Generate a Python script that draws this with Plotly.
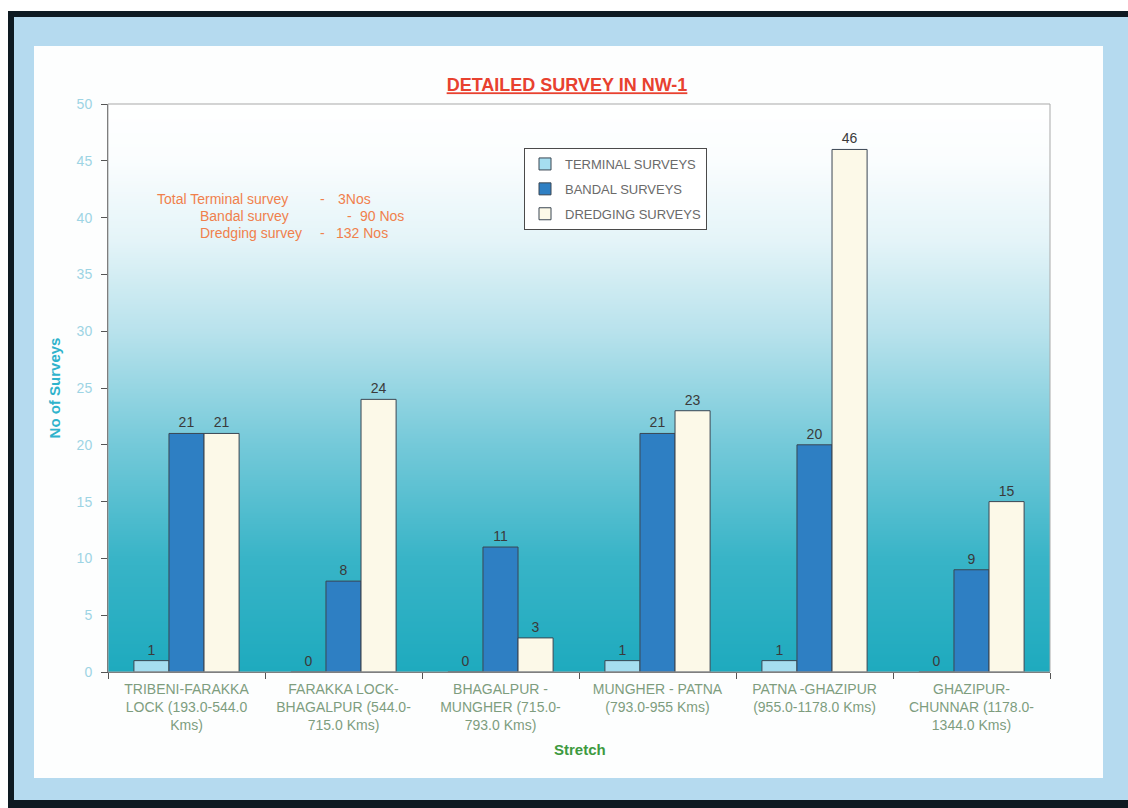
import plotly.graph_objects as go

# ---- data -------------------------------------------------------------
stretches = [
    "TRIBENI-FARAKKA<br>LOCK (193.0-544.0<br>Kms)",
    "FARAKKA LOCK-<br>BHAGALPUR (544.0-<br>715.0 Kms)",
    "BHAGALPUR -<br>MUNGHER (715.0-<br>793.0 Kms)",
    "MUNGHER - PATNA<br>(793.0-955 Kms)",
    "PATNA -GHAZIPUR<br>(955.0-1178.0 Kms)",
    "GHAZIPUR-<br>CHUNNAR (1178.0-<br>1344.0 Kms)",
]
terminal_surveys = [1, 0, 0, 1, 1, 0]
bandal_surveys = [21, 8, 11, 21, 20, 9]
dredging_surveys = [21, 24, 3, 23, 46, 15]

summary_labels = ["Total Terminal survey", "Bandal survey", "Dredging survey"]
summary_values = ["3Nos", "90 Nos", "132 Nos"]

y_max = 50

# ---- geometry helpers (pixel -> paper) --------------------------------
W, H = 1128, 808
L, R, T, B = 108, 78, 104, 136
PW, PH = W - L - R, H - T - B


def px(x):
    return (x - L) / PW


def py(y):
    return (H - B - y) / PH


FONT = "Liberation Sans, Arial, sans-serif"

fig = go.Figure()

# vertical white-to-teal wash behind the bars
fig.add_trace(go.Heatmap(
    x=stretches,
    y=[0, y_max],
    z=[[0] * len(stretches), [y_max] * len(stretches)],
    zmin=0, zmax=y_max,
    zsmooth="best",
    colorscale=[[0.0, "#1eaabe"], [0.2, "#38b4c7"], [0.4, "#74c9d9"],
                [0.6, "#b8e2ec"], [0.76, "#e4f4f8"], [0.9, "#fafdfe"],
                [1.0, "#ffffff"]],
    showscale=False, hoverinfo="skip", showlegend=False,
))

bar_line = dict(color="#3a4652", width=1)
series = [
    ("TERMINAL SURVEYS", terminal_surveys, "#a6def0"),
    ("BANDAL SURVEYS", bandal_surveys, "#2e7fc3"),
    ("DREDGING SURVEYS", dredging_surveys, "#fcf9e8"),
]
for name, vals, color in series:
    fig.add_trace(go.Bar(
        name=name, x=stretches, y=vals, legendgroup=name,
        marker=dict(color=color, line=bar_line),
        text=[str(v) for v in vals], textposition="outside",
        textfont=dict(family=FONT, size=14, color="#3a3a3a"),
        cliponaxis=False,
    ))

# ---- page frame -------------------------------------------------------
shapes = [
    dict(type="rect", xref="paper", yref="paper", layer="below",
         x0=px(8), x1=px(1140), y0=py(820), y1=py(11),
         fillcolor="#0e1a22", line=dict(width=0)),
    dict(type="rect", xref="paper", yref="paper", layer="below",
         x0=px(14), x1=px(1140), y0=py(800), y1=py(17),
         fillcolor="#b5daef", line=dict(width=0)),
    dict(type="rect", xref="paper", yref="paper", layer="below",
         x0=px(34), x1=px(1103), y0=py(778), y1=py(46),
         fillcolor="#fdfefe", line=dict(width=0)),
    # plot-area outline
    dict(type="rect", xref="paper", yref="paper", layer="above",
         x0=0, x1=1, y0=0, y1=1,
         line=dict(color="#a9a9a9", width=1)),
]

annotations = [
    dict(text="<b>Stretch</b>", xref="paper", yref="paper",
         x=px(580), y=py(760), showarrow=False,
         font=dict(family=FONT, size=15, color="#3d9a40")),
]

orange = "#f0804c"
lab_x = [155, 198, 198]
dash_x = [318, 345, 318]
val_x = [336, 358, 334]
row_y = [189, 206, 223]
for i in range(3):
    for txt, xx in ((summary_labels[i], lab_x[i]), ("-", dash_x[i]),
                    (summary_values[i], val_x[i])):
        annotations.append(dict(text=txt, xref="paper", yref="paper",
                                x=px(xx), y=py(row_y[i]), xanchor="left",
                                showarrow=False,
                                font=dict(family=FONT, size=14, color=orange)))

fig.update_layout(
    width=W, height=H,
    margin=dict(l=L, r=R, t=T, b=B),
    paper_bgcolor="#ffffff",
    plot_bgcolor="rgba(0,0,0,0)",
    barmode="group", bargap=0.33, bargroupgap=0,
    title=dict(text="<b><u>DETAILED SURVEY IN NW-1</u></b>",
               xref="paper", x=px(567), xanchor="center",
               yref="container", y=1 - 85 / H, yanchor="middle",
               font=dict(family=FONT, size=18, color="#e8412f")),
    xaxis=dict(type="category", categoryorder="array", categoryarray=stretches,
               tickson="boundaries", ticks="outside", ticklen=6,
               tickcolor="#555555", showline=True, linecolor="#555555",
               showgrid=False, zeroline=False, ticklabelstandoff=4,
               tickfont=dict(family=FONT, size=14, color="#7e9d7e")),
    yaxis=dict(range=[0, y_max], dtick=5, ticks="outside", ticklen=6,
               tickcolor="#555555", showline=True, linecolor="#555555",
               showgrid=False, zeroline=False, ticklabelstandoff=6,
               tickfont=dict(family=FONT, size=14, color="#9dd4e4"),
               title=dict(text="<b>No of Surveys</b>", standoff=12,
                          font=dict(family=FONT, size=15, color="#2fb3cc"))),
    legend=dict(x=px(524), y=py(148), xanchor="left", yanchor="top",
                bgcolor="#ffffff", bordercolor="#4a4a4a", borderwidth=1,
                font=dict(family=FONT, size=13, color="#6a6a6a"),
                itemwidth=30, tracegroupgap=5),
    shapes=shapes,
    annotations=annotations,
    showlegend=True,
)

fig.write_html("out.html")
